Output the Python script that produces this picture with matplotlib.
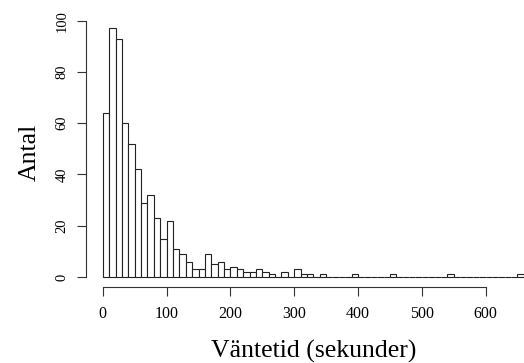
import numpy as np
import matplotlib
matplotlib.use("Agg")
import matplotlib.pyplot as plt

plt.rcParams['font.family'] = ['Liberation Serif', 'DejaVu Serif']

# histogram of waiting times, bins of 10 s from 0 to 660
bin_edges = np.arange(0, 670, 10)
counts = [64, 97, 93, 60, 52, 42, 29, 32, 23, 15,
          22, 11, 9, 6, 3, 3, 9, 5, 6, 3,
          4, 3, 2, 2, 3, 2, 1, 0, 2, 0,
          3, 1, 1, 0, 1, 0, 0, 0, 0, 1,
          0, 0, 0, 0, 0, 1, 0, 0, 0, 0,
          0, 0, 0, 0, 1, 0, 0, 0, 0, 0,
          0, 0, 0, 0, 0, 1]
x_ticks = [0, 100, 200, 300, 400, 500, 600]
y_ticks = [0, 20, 40, 60, 80, 100]

W, H = 524, 363
fig = plt.figure(figsize=(W / 100, H / 100), dpi=100)
# plot region in pixels (R style, extends past right edge of the image)
left, right, top, bottom = 86, 540.7, 18.4, 287
ax = fig.add_axes([left / W, 1 - bottom / H, (right - left) / W, (bottom - top) / H])

ax.bar(bin_edges[:-1], counts, width=10, align='edge',
       color='white', edgecolor='#222222', linewidth=0.8)

ax.set_xlim(-26.4, 686.4)
ax.set_ylim(-3.88, 100.88)

for s in ['top', 'right']:
    ax.spines[s].set_visible(False)
ax.spines['left'].set_bounds(0, 100)
ax.spines['bottom'].set_bounds(0, 600)
for s in ['left', 'bottom']:
    ax.spines[s].set_linewidth(0.8)
    ax.spines[s].set_color('#333333')

ax.set_xticks(x_ticks)
ax.set_yticks(y_ticks)
ax.set_xticklabels([str(v) for v in x_ticks], fontsize=11.5)
ax.set_yticklabels([str(v) for v in y_ticks], fontsize=10.5, rotation=90, va='center')
ax.tick_params(axis='both', length=6.5, width=0.8, color='#333333')
ax.tick_params(axis='x', pad=7)
ax.tick_params(axis='y', pad=6)

ax.set_xlabel('Väntetid (sekunder)', fontsize=18.5)
ax.xaxis.set_label_coords(0.5, -0.197)
ax.set_ylabel('Antal', fontsize=18.5)
ax.yaxis.set_label_coords(-0.10, 0.5)

fig.savefig('out.png', dpi=100)
